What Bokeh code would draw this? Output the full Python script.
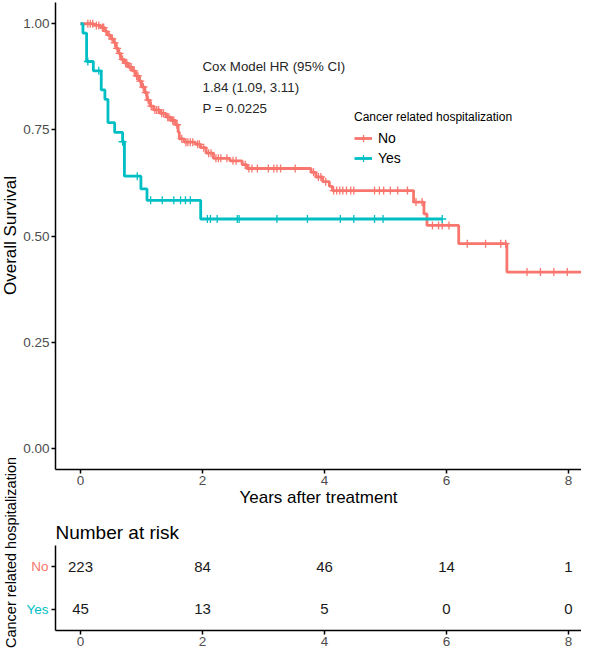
import numpy as np
from bokeh.plotting import figure
from bokeh.models import (ColumnDataSource, FixedTicker, NumeralTickFormatter, Legend,
                          LegendItem, Label, Range1d, FactorRange)
from bokeh.layouts import row, column
from bokeh.core.properties import value
from bokeh.embed import file_html
from bokeh.resources import INLINE

# ---------------- data ----------------
strata = ["No", "Yes"]
strata_colors = ["#F8766D", "#00BFC4"]

no_times = [0.00, 0.22, 0.33, 0.40, 0.44, 0.50, 0.55, 0.58, 0.62, 0.66, 0.72, 0.78,
            0.85, 0.90, 0.96, 1.00, 1.05, 1.09, 1.14, 1.20, 1.30, 1.40, 1.48, 1.56,
            1.60, 1.62, 1.70, 1.88, 1.97, 2.06, 2.18, 2.45, 2.65, 2.73, 3.78, 3.86,
            3.97, 4.08, 4.13, 5.46, 5.63, 5.68, 6.20, 6.99]
no_surv = [1.000, 0.996, 0.991, 0.982, 0.973, 0.964, 0.955, 0.942, 0.930, 0.916, 0.907, 0.898,
           0.889, 0.877, 0.865, 0.851, 0.838, 0.820, 0.806, 0.797, 0.789, 0.780, 0.772, 0.762,
           0.745, 0.729, 0.721, 0.716, 0.708, 0.695, 0.683, 0.677, 0.668, 0.659, 0.650, 0.639,
           0.628, 0.617, 0.607, 0.580, 0.552, 0.525, 0.482, 0.415]
no_last_time = 8.45
no_censor = [0.12, 0.16, 0.20, 0.26, 0.30, 0.36, 0.38, 0.42, 0.47, 0.52, 0.56, 0.60,
             0.64, 0.69, 0.74, 0.76, 0.81, 0.83, 0.88, 0.92, 0.94, 0.98, 1.03, 1.07,
             1.11, 1.16, 1.22, 1.25, 1.28, 1.33, 1.36, 1.43, 1.45, 1.51, 1.53, 1.58,
             1.66, 1.73, 1.76, 1.80, 1.84, 1.92, 1.95, 2.02, 2.10, 2.14, 2.22, 2.26,
             2.30, 2.40, 2.50, 2.55, 2.70, 2.76, 2.81, 2.90, 3.08, 3.17, 3.22, 3.28,
             3.52, 3.82, 3.90, 3.94, 4.02, 4.15, 4.20, 4.25, 4.30, 4.36, 4.43, 4.48,
             4.82, 4.90, 4.97, 5.08, 5.20, 5.36, 5.50, 5.60, 5.77, 5.87, 5.93, 6.04,
             6.34, 6.64, 6.89, 6.97, 7.32, 7.54, 7.76, 7.98]

yes_times = [0.00, 0.04, 0.10, 0.21, 0.34, 0.40, 0.45, 0.56, 0.69, 0.72, 0.99, 1.09, 1.97]
yes_surv = [1.000, 0.978, 0.911, 0.889, 0.844, 0.822, 0.767, 0.744, 0.722, 0.641, 0.611,
            0.584, 0.540]
yes_last_time = 5.93
yes_censor = [0.12, 0.30, 0.69, 0.93, 1.15, 1.34, 1.53, 1.64, 1.72, 1.80, 2.08, 2.13,
              2.24, 2.57, 2.60, 3.22, 3.72, 4.26, 4.48, 4.82, 4.96, 5.93]

risk_times = [0, 2, 4, 6, 8]
risk_no = [223, 84, 46, 14, 1]
risk_yes = [45, 13, 5, 0, 0]

x_ticks = [0, 2, 4, 6, 8]
y_ticks = [0.0, 0.25, 0.50, 0.75, 1.00]
cox_lines = ["Cox Model HR (95% CI)", "1.84 (1.09, 3.11)", "P = 0.0225"]
legend_title = "Cancer related hospitalization"
x_title = "Years after treatment"
y_title = "Overall Survival"
risk_title = "Number at risk"
risk_y_title = "Cancer related hospitalization"
risk_factors = ["Yes", "No"]   # bottom to top

FONT = "Liberation Sans"
TICK_COLOR = "#4D4D4D"

x_range = Range1d(-0.41, 8.213)


def style_axes(p):
    for ax in (p.xaxis + p.yaxis):
        ax.axis_line_color = "black"
        ax.axis_line_width = 1.5
        ax.major_tick_line_color = "black"
        ax.major_tick_line_width = 1.5
        ax.major_tick_out = 4
        ax.major_tick_in = 0
        ax.minor_tick_line_color = None
        ax.major_label_text_font = FONT
        ax.major_label_text_font_size = "13.5px"
        ax.major_label_text_color = TICK_COLOR
        ax.major_label_standoff = 2
        ax.axis_label_text_font = FONT
        ax.axis_label_text_font_size = "17px"
        ax.axis_label_text_font_style = "normal"
        ax.axis_label_text_color = "black"
        ax.axis_label_standoff = 0
    p.xgrid.visible = False
    p.ygrid.visible = False
    p.outline_line_color = None


# ---------------- main survival plot ----------------
p = figure(width=561, height=509, x_range=x_range, y_range=Range1d(-0.05, 1.05),
           output_backend="svg", toolbar_location=None, title=None,
           min_border_left=35, min_border_right=0, min_border_top=2, min_border_bottom=40)
p.xaxis.ticker = FixedTicker(ticks=x_ticks)
p.yaxis.ticker = FixedTicker(ticks=y_ticks)
p.yaxis.formatter = NumeralTickFormatter(format="0.00")
p.xaxis.axis_label = x_title
style_axes(p)


def step_source(times, surv, last_time):
    return ColumnDataSource(dict(x=list(times) + [last_time], y=list(surv) + [surv[-1]]))


def censor_source(times, surv, cens):
    t = np.asarray(times)
    s = np.asarray(surv)
    idx = np.searchsorted(t, np.asarray(cens), side="right") - 1
    return ColumnDataSource(dict(x=list(cens), y=list(s[idx])))


items = []
for name, color, times, surv, last, cens in [
        ("No", strata_colors[0], no_times, no_surv, no_last_time, no_censor),
        ("Yes", strata_colors[1], yes_times, yes_surv, yes_last_time, yes_censor)]:
    lr = p.step(x="x", y="y", source=step_source(times, surv, last), mode="after",
                line_color=color, line_width=2.8)
    cr = p.scatter(x="x", y="y", source=censor_source(times, surv, cens), marker="cross",
                   size=8, line_color=color, line_width=1.3)
    items.append(LegendItem(label=name, renderers=[lr, cr]))

cox_y = [0.90, 0.85, 0.80]
for txt, yy in zip(cox_lines, cox_y):
    p.add_layout(Label(x=2.0, y=yy, text=txt, text_font=FONT, text_font_size="13.3px",
                       text_color="#262626", text_align="left", text_baseline="middle"))

legend = Legend(items=items, title=legend_title, location=(299, 301),
                border_line_color=None, background_fill_alpha=0,
                title_text_font=FONT, title_text_font_size="12px",
                title_text_font_style="normal", title_text_color="black",
                label_text_font=FONT, label_text_font_size="14px", label_text_color="black",
                glyph_width=18, glyph_height=20, label_height=20, spacing=0,
                padding=4, margin=0, title_standoff=4, label_standoff=6)
p.add_layout(legend)

# ---------------- risk table ----------------
RISK_H = 142
RISK_TOP = 36
RISK_BOTTOM = 21
risk_y_range = FactorRange(factors=risk_factors)

r = figure(width=532, height=RISK_H, x_range=x_range, y_range=risk_y_range,
           output_backend="svg", toolbar_location=None, title=risk_title,
           min_border_left=6, min_border_right=0, min_border_top=RISK_TOP,
           min_border_bottom=RISK_BOTTOM)
r.xaxis.ticker = FixedTicker(ticks=x_ticks)
style_axes(r)
# the row names are drawn in their own colours in the strip on the left
r.yaxis.major_label_text_color = None
r.title.text_font = FONT
r.title.text_font_size = "19px"
r.title.text_font_style = "normal"
r.title.text_color = "black"
r.title.align = "left"
r.title.standoff = 6
r.title.offset = 0

risk_src = ColumnDataSource(dict(
    x=risk_times + risk_times,
    y=["No"] * len(risk_no) + ["Yes"] * len(risk_yes),
    t=[str(v) for v in risk_no + risk_yes]))
r.text(x="x", y="y", text="t", source=risk_src, text_font=value(FONT),
       text_font_size=value("15px"), text_align="center", text_baseline="middle",
       text_color="#1a1a1a")

# coloured strata names for the risk-table rows (own narrow strip, same factor range)
lab = figure(width=29, height=RISK_H, x_range=Range1d(0, 29), y_range=risk_y_range,
             output_backend="svg", toolbar_location=None, title=None,
             x_axis_type=None, y_axis_type=None, min_border_left=0, min_border_right=0,
             min_border_top=RISK_TOP, min_border_bottom=RISK_BOTTOM)
lab.xgrid.visible = False
lab.ygrid.visible = False
lab.outline_line_color = None
lab_src = ColumnDataSource(dict(x=[28.0] * len(strata), y=strata, t=strata, c=strata_colors))
lab.text(x="x", y="y", text="t", text_color="c", source=lab_src, text_font=value(FONT),
         text_font_size=value("13.5px"), text_align="right", text_baseline="middle")

# ---------------- side strip with rotated titles ----------------
side = figure(width=20, height=651, x_range=Range1d(0, 20), y_range=Range1d(0, 651),
              output_backend="svg", toolbar_location=None, title=None,
              x_axis_type=None, y_axis_type=None, min_border=0)
side.xgrid.visible = False
side.ygrid.visible = False
side.outline_line_color = None
side.add_layout(Label(x=10, y=416, text=y_title, angle=np.pi / 2, text_font=FONT,
                      text_font_size="17px", text_color="black", text_align="center",
                      text_baseline="middle"))
side.add_layout(Label(x=10, y=99, text=risk_y_title, angle=np.pi / 2, text_font=FONT,
                      text_font_size="14.5px", text_color="black", text_align="center",
                      text_baseline="middle"))

layout = row(side, column(p, row(lab, r)))
open("out.html", "w").write(file_html(layout, INLINE))
